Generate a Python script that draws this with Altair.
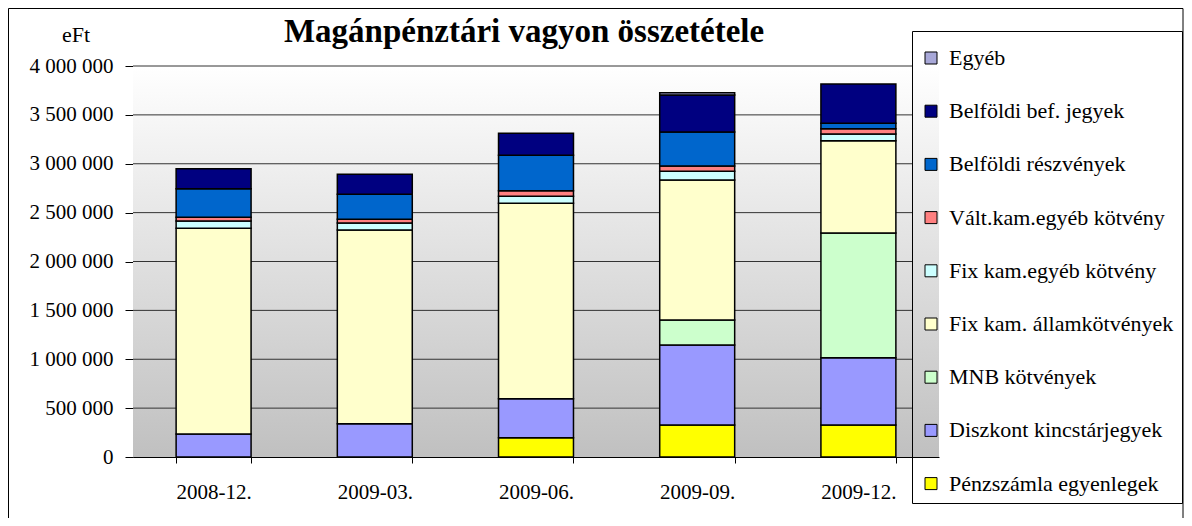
import altair as alt
import pandas as pd

title_text = "Magánpénztári vagyon összetétele"
unit_text = "eFt"
categories = ["2008-12.", "2009-03.", "2009-06.", "2009-09.", "2009-12."]

# stacking order: bottom -> top
series = [
    "Pénzszámla egyenlegek",
    "Diszkont kincstárjegyek",
    "MNB kötvények",
    "Fix kam. államkötvények",
    "Fix kam.egyéb kötvény",
    "Vált.kam.egyéb kötvény",
    "Belföldi részvények",
    "Belföldi bef. jegyek",
    "Egyéb",
]
colors = ["#FFFF00", "#9999FF", "#CCFFCC", "#FFFFCC", "#CCFFFF",
          "#FF8080", "#0066CC", "#000080", "#A8A8D8"]

penz = [0, 0, 197000, 327000, 327000]
diszkont = [235000, 341000, 399000, 819000, 689000]
mnb = [0, 0, 0, 256000, 1276000]
allam = [2105000, 1981000, 1999000, 1432000, 944000]
fix_egyeb = [75000, 72000, 72000, 89000, 68000]
valt_egyeb = [38000, 38000, 57000, 54000, 55000]
reszveny = [290000, 256000, 362000, 348000, 55000]
bef_jegy = [205000, 204000, 226000, 378000, 402000]
egyeb = [0, 0, 0, 24000, 0]

y_ticks = [0, 500000, 1000000, 1500000, 2000000, 2500000, 3000000, 3500000, 4000000]

values = [penz, diszkont, mnb, allam, fix_egyeb, valt_egyeb, reszveny, bef_jegy, egyeb]
rows = []
for i, (name, vals) in enumerate(zip(series, values)):
    for c, v in zip(categories, vals):
        if v > 0:
            rows.append({"cat": c, "series": name, "idx": i, "value": v})
df = pd.DataFrame(rows)

legend_order = series[::-1]
legend_colors = colors[::-1]

FONT = "Liberation Serif"

y_scale = alt.Scale(domain=[0, 4000000], nice=False)
y_axis = alt.Axis(
    title=None, values=y_ticks, grid=False,
    labelExpr="replace(replace(format(datum.value, ',d'), ',', ' '), ',', ' ')",
    labelFont=FONT, labelFontSize=21, labelColor="black", labelPadding=12,
    tickSize=8, tickColor="black", domainColor="black", tickWidth=1, domainWidth=1,
)

background = alt.Chart(pd.DataFrame({"t": [0]})).mark_rect(
    color=alt.LinearGradient(
        gradient="linear",
        stops=[alt.GradientStop(color="#FFFFFF", offset=0),
               alt.GradientStop(color="#C0C0C0", offset=1)],
        x1=0, x2=0, y1=0, y2=1,
    )
).encode(x=alt.value(0), x2=alt.value(806), y=alt.value(0), y2=alt.value(391))

grid = alt.Chart(pd.DataFrame({"tick": y_ticks[1:]})).mark_rule(
    color="#333333", strokeWidth=1
).encode(
    y=alt.Y("tick:Q", scale=y_scale, axis=y_axis),
    x=alt.value(0),
    x2=alt.value(779),
)

bars = alt.Chart(df).mark_bar(stroke="black", strokeWidth=1.5).encode(
    x=alt.X(
        "cat:N", sort=categories,
        scale=alt.Scale(paddingInner=0.535, paddingOuter=0.2675),
        axis=alt.Axis(
            title=None, labelAngle=0, tickBand="extent", tickSize=6,
            tickColor="black", domainColor="black", labelFont=FONT,
            labelFontSize=21, labelColor="black", labelPadding=18, grid=False,
        ),
    ),
    y=alt.Y("value:Q", stack="zero", scale=y_scale, axis=y_axis),
    color=alt.Color(
        "series:N",
        scale=alt.Scale(domain=legend_order, range=legend_colors),
        legend=alt.Legend(
            title=" ", titleFontSize=6, titlePadding=2,
            orient="none", legendX=779, legendY=-35,
            direction="vertical", symbolType="square", symbolSize=144,
            symbolStrokeColor="black", symbolStrokeWidth=1,
            labelFont=FONT, labelFontSize=22, labelColor="black",
            rowPadding=31.2, padding=8, strokeColor="black",
            labelOffset=7, labelLimit=400, symbolOpacity=1,
        ),
    ),
    order=alt.Order("idx:Q", sort="ascending"),
)

title = alt.Chart(pd.DataFrame({"t": [title_text]})).mark_text(
    font=FONT, fontSize=33, fontWeight="bold", color="black",
    align="center", baseline="alphabetic",
).encode(text="t:N", x=alt.value(391), y=alt.value(-24))

unit = alt.Chart(pd.DataFrame({"t": [unit_text]})).mark_text(
    font=FONT, fontSize=22, color="black", align="center", baseline="alphabetic",
).encode(text="t:N", x=alt.value(-57), y=alt.value(-24))

border = alt.Chart(pd.DataFrame({"t": [0]})).mark_rect(
    fillOpacity=0, stroke="black", strokeWidth=1
).encode(
    x=alt.value(-124.5), x2=alt.value(1050), y=alt.value(-57.5), y2=alt.value(480)
)

chart = alt.layer(background, grid, bars, title, unit, border).properties(
    width=806, height=391,
    autosize=alt.AutoSizeParams(type="none"),
    padding={"left": 125, "top": 58, "right": 245, "bottom": 61},
    background="white",
).configure_view(
    stroke="transparent"
).configure_legend(
    labelFont=FONT, labelFontSize=22, labelColor="black"
)

chart.save("out.html", embed_options={"renderer": "svg", "actions": False})
